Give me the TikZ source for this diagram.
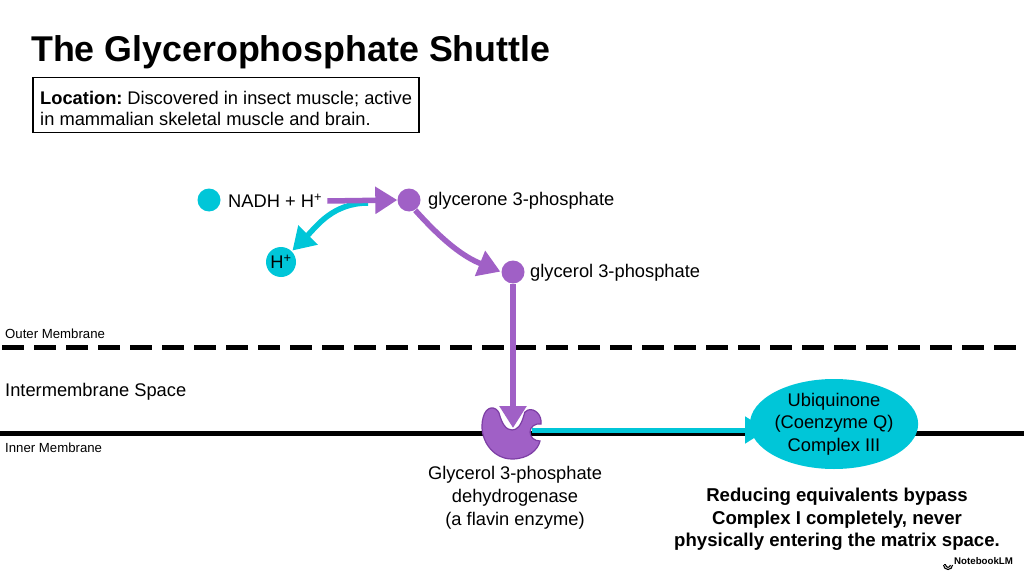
\documentclass[tikz,border=0pt]{standalone}
\usepackage{fontspec}
\setmainfont{Liberation Sans}
\usetikzlibrary{arrows.meta,shapes.geometric}
\definecolor{cy}{RGB}{0,198,216}
\definecolor{pu}{RGB}{160,96,198}
\definecolor{pud}{RGB}{125,62,165}
\tikzset{
  cdot/.style={circle,fill=cy,inner sep=0pt,minimum size=23pt},
  pdot/.style={circle,fill=pu,inner sep=0pt,minimum size=23pt},
  lbl/.style={inner sep=0pt,font=\fontsize{18.3}{22}\selectfont},
  small/.style={inner sep=0pt,font=\fontsize{13.2}{15}\selectfont},
  parrow/.style={pu,line width=5.5pt,-{Triangle[length=22pt,width=26pt]}},
  carrow/.style={cy,line width=5.5pt,-{Triangle[length=22pt,width=26pt]}},
}
\begin{document}
\begin{tikzpicture}[x=1pt,y=-1pt]
\useasboundingbox[fill=white] (0,0) rectangle (1024,572);
% title
\node[anchor=base west,inner sep=0pt,font=\fontsize{35.8}{40}\selectfont\bfseries] (title) at (31,62) {The Glycerophosphate Shuttle};
\node[draw,line width=1.5pt,anchor=north west,minimum width=386pt,minimum height=55pt] (locbox) at (32,77) {};
\node[lbl,anchor=base west] (loc) at (40,105) {\textbf{Location:}\hspace{-2pt} Discovered in insect muscle; active};
\node[lbl,anchor=base west] (loc2) at (40,126) {in mammalian skeletal muscle and brain.};
% membranes
\node[small,anchor=base west] (outer) at (5,338) {Outer Membrane};
\coordinate (om1) at (2,347);
\coordinate (om2) at (1024,347);
\draw[line width=5pt,dash pattern=on 22pt off 10pt] (om1) -- (om2);
\node[lbl,anchor=base west] (ims) at (5,396) {Intermembrane Space};
\coordinate (im1) at (0,433);
\coordinate (im2) at (1024,433);
\draw[line width=5pt] (im1) -- (im2);
\node[small,anchor=base west] (inner) at (5,452) {Inner Membrane};
% molecules
\node[cdot] (nadh) at (209,200) {};
\node[lbl,anchor=west] (nadhl) at (228,201) {NADH + H\textsuperscript{+}};
\node[pdot] (g3p) at (409,200) {};
\node[lbl,anchor=west] (g3pl) at (428,201) {glycerone 3-phosphate};
\node[pdot] (gol) at (513,272) {};
\node[lbl,anchor=west] (goll) at (530,273) {glycerol 3-phosphate};
\node[circle,fill=cy,inner sep=0pt,minimum size=30pt,font=\fontsize{18.3}{20}\selectfont] (hplus) at (281,262) {H\textsuperscript{+}};
\coordinate (branch) at (368,203);
% arrows
\draw[carrow,shorten >=1pt] (branch) to[out=180,in=45] (hplus.north east);
\draw[parrow] (nadhl.east) ++(5,0) coordinate (nstart) -- (g3p.west);
\draw[parrow,shorten >=1pt] (g3p.south east) ++(-2,2) coordinate (gs) to[out=-48,in=158] (gol.west);
% enzyme
\filldraw[fill=pu,draw=pud,line width=1.2pt] (499,413) .. controls (496,406) and (486,405) .. (483,418) .. controls (478,438) and (492,459) .. (512,459) .. controls (528,459) and (538,450) .. (540,441) .. controls (534,441) and (530,437) .. (530,432) .. controls (530,427) and (535,423) .. (541,424) .. controls (542,415) and (535,408) .. (528,410) .. controls (525,411) and (524,413) .. (524,415) .. controls (521,426) and (517,430) .. (512,430) .. controls (506,430) and (502,424) .. (499,413) -- cycle;
\coordinate (enz) at (512,440);
\coordinate (tip) at (513,428);
\draw[parrow] (gol.south) -- (tip);
% ubiquinone
\node[ellipse,fill=cy,minimum width=140pt,minimum height=90pt,inner sep=0pt,align=center,font=\fontsize{18.3}{22.5}\selectfont] (ubq) at (834,424) {Ubiquinone\\(Coenzyme Q)\\Complex III};
\coordinate (cstart) at (532,430);
\coordinate (cend) at (767,430);
\draw[carrow,line width=5pt] (cstart) -- (cend);
% labels
\node[lbl,align=center,font=\fontsize{18.3}{23}\selectfont,anchor=north] (enzl) at (515,466) {Glycerol 3-phosphate\\dehydrogenase\\(a flavin enzyme)};
\node[lbl,align=center,font=\fontsize{18.6}{22.5}\selectfont\bfseries,anchor=north] (note) at (837,488) {Reducing equivalents bypass\\Complex I completely, never\\physically entering the matrix space.};
% logo
\node[inner sep=0pt,anchor=west,font=\fontsize{9.7}{10}\selectfont\bfseries] (nblm) at (954,561) {NotebookLM};
\coordinate (lg) at (948,565);
\draw[line width=1.1pt] (lg) ++(-4.5,0) arc (180:0:4.5);
\draw[line width=1.1pt] (lg) ++(-2.3,0) arc (180:0:2.3);
\fill (lg) ++(-4.5,0) rectangle ++(2.2,-0.8);
\end{tikzpicture}
\end{document}
